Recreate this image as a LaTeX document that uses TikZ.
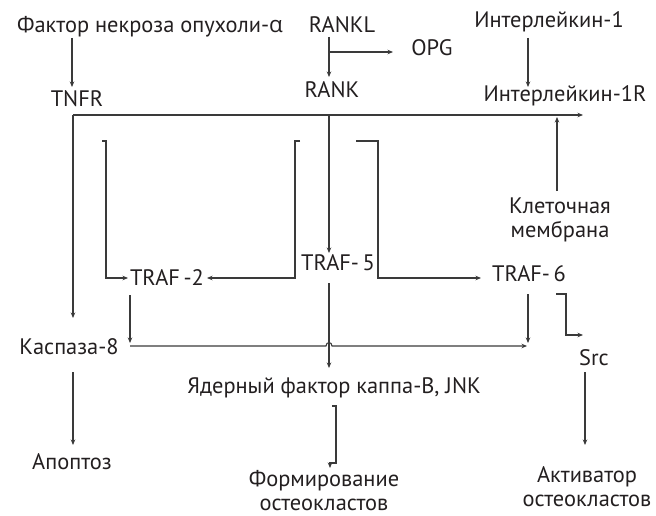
\documentclass[tikz,border=0pt]{standalone}
\usepackage{fontspec}
\setmainfont{PT Sans}
\newfontfamily\grk{Open Sans}
\usetikzlibrary{arrows.meta}
\definecolor{txt}{HTML}{231F20}
\definecolor{lc}{HTML}{3A3A3A}
\begin{document}
\begin{tikzpicture}[x=1pt,y=-1pt,
  lbl/.style={font=\fontsize{22.4}{26}\selectfont, text=txt, inner sep=0pt, anchor=base},
  ln/.style={draw=lc, line width=1.1pt},
  arr/.style={ln, -{Stealth[length=5.5pt,width=4.5pt]}}]
\useasboundingbox (0,0) rectangle (656,516);
% text nodes
\node[lbl] (fnt)   at (150,33)  {Фактор некроза опухоли-{\grk α}};
\node[lbl] (rankl) at (342,33)  {RANKL};
\node[lbl] (il1)   at (549,28)  {Интерлейкин-1};
\node[lbl] (opg)   at (432,56)  {OPG};
\node[lbl] (tnfr)  at (77,107)  {TNFR};
\node[lbl] (rank)  at (332,98)  {RANK};
\node[lbl] (il1r)  at (565,102) {Интерлейкин-1R};
\node[lbl] (mem1)  at (560,213) {Клеточная};
\node[lbl] (mem2)  at (560,237) {мембрана};
\node[lbl] (traf5) at (338,270) {TRAF-\,5};
\node[lbl] (traf2) at (167,285) {TRAF\,-2};
\node[lbl] (traf6) at (529,281) {TRAF-\,6};
\node[lbl] (kasp)  at (69,354)  {Каспаза-8};
\node[lbl] (src)   at (594,365) {Src};
\node[lbl] (nfkb)  at (334,393) {Ядерный фактор каппа-B, JNK};
\node[lbl] (apop)  at (72,469)  {Апоптоз};
\node[lbl] (form1) at (324,486) {Формирование};
\node[lbl] (form2) at (324,510) {остеокластов};
\node[lbl] (act1)  at (587,482) {Активатор};
\node[lbl] (act2)  at (587,506) {остеокластов};
% connector coordinates
\coordinate (fntA) at (72,38);   \coordinate (tnfrA) at (72,87);
\coordinate (ranklA) at (329,37); \coordinate (rankA) at (329,77);
\coordinate (opgS) at (329,52);  \coordinate (opgA) at (393,52);
\coordinate (il1A) at (528,38);  \coordinate (il1rA) at (528,87);
\coordinate (m0) at (73,115);    \coordinate (mR) at (583,115);
\coordinate (kaspA) at (73,318);
\coordinate (r0) at (329,115);   \coordinate (traf5A) at (329,253);
\coordinate (memA) at (557,191); \coordinate (memT) at (557,117);
\coordinate (b1a) at (102,141);  \coordinate (b1b) at (106,141); \coordinate (b1c) at (106,278); \coordinate (traf2L) at (128,278);
\coordinate (b2a) at (300,141);  \coordinate (b2b) at (295,141); \coordinate (b2c) at (295,278); \coordinate (traf2R) at (207,278);
\coordinate (b3a) at (356,141);  \coordinate (b3b) at (378,141); \coordinate (b3c) at (378,278); \coordinate (traf6L) at (481,278);
\coordinate (t2d) at (130,295);  \coordinate (h0) at (130,343);
\coordinate (hL) at (130,346);   \coordinate (hR) at (527,346);
\coordinate (t6d) at (528,294);  \coordinate (t6e) at (528,343);
\coordinate (t5d) at (329,283);  \coordinate (nfkbA) at (329,368);
\coordinate (s0) at (556,294);   \coordinate (s1) at (566,294); \coordinate (s2) at (566,335); \coordinate (srcA) at (583,335);
\coordinate (srcD) at (585,372); \coordinate (actA) at (585,445);
\coordinate (kaspD) at (73,372); \coordinate (apopA) at (73,445);
\coordinate (n0) at (332,406);   \coordinate (n1) at (336,406); \coordinate (n2) at (336,463); \coordinate (n3) at (330,463); \coordinate (formA) at (330,468);
% connectors
\draw[arr] (fntA) -- (tnfrA);
\draw[arr] (ranklA) -- (rankA);
\draw[arr] (opgS) -- (opgA);
\draw[arr] (il1A) -- (il1rA);
\draw[arr] (m0) -- (mR);
\draw[arr] (m0) -- (kaspA);
\draw[arr] (r0) -- (traf5A);
\draw[arr] (memA) -- (memT);
\draw[arr] (b1a) -- (b1b) -- (b1c) -- (traf2L);
\draw[arr] (b2a) -- (b2b) -- (b2c) -- (traf2R);
\draw[arr] (b3a) -- (b3b) -- (b3c) -- (traf6L);
\draw[arr] (t2d) -- (h0);
\draw[arr] (hL) -- (326,346) .. controls (326,341.5) and (332,341.5) .. (332,346) -- (hR);
\draw[arr] (t6d) -- (t6e);
\draw[arr] (t5d) -- (nfkbA);
\draw[arr] (s0) -- (s1) -- (s2) -- (srcA);
\draw[arr] (srcD) -- (actA);
\draw[arr] (kaspD) -- (apopA);
\draw[arr] (n0) -- (n1) -- (n2) -- (n3) -- (formA);
\end{tikzpicture}
\end{document}
